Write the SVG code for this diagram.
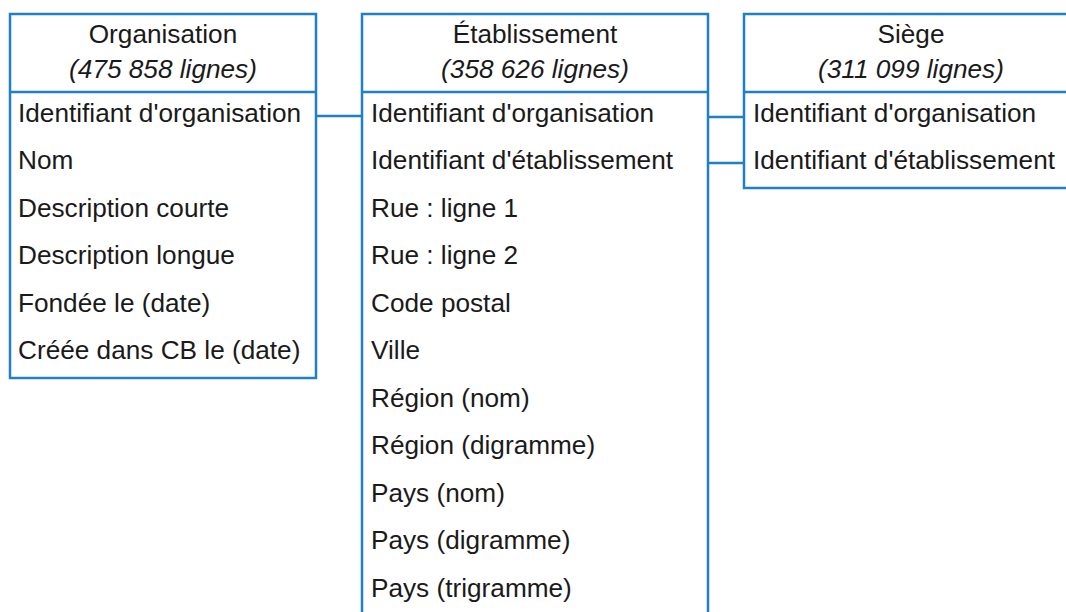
<svg xmlns="http://www.w3.org/2000/svg" width="1066" height="612" viewBox="0 0 1066 612">
<style>
.box{fill:#fff;stroke:#1f80c4;stroke-width:2.5}
.div{stroke:#1f80c4;stroke-width:2.5}
.conn{stroke:#1f80c4;stroke-width:2.5;fill:none}
text{font-family:"Liberation Sans",Arial,sans-serif;font-size:26.2px;fill:#1a1a1a}
.h{text-anchor:middle}
.i{font-style:italic}
</style>
<rect width="1066" height="612" fill="#fff"/>
<g id="connectors">
<line class="conn" x1="316" y1="116" x2="362" y2="116"/>
<line class="conn" x1="708" y1="117" x2="744" y2="117"/>
<line class="conn" x1="708" y1="163" x2="744" y2="163"/>
</g>
<g id="organisation">
<rect class="box" x="10" y="14" width="306" height="364"/>
<line class="div" x1="10" y1="92" x2="316" y2="92"/>
<text class="h" x="163" y="43">Organisation</text>
<text class="h i" x="163" y="78">(475 858 lignes)</text>
<text x="18" y="121.5">Identifiant d'organisation</text>
<text x="18" y="169">Nom</text>
<text x="18" y="216.5">Description courte</text>
<text x="18" y="264">Description longue</text>
<text x="18" y="311.5">Fondée le (date)</text>
<text x="18" y="359">Créée dans CB le (date)</text>
</g>
<g id="etablissement">
<rect class="box" x="362" y="14" width="346" height="620"/>
<line class="div" x1="362" y1="92" x2="708" y2="92"/>
<text class="h" x="535" y="43">Établissement</text>
<text class="h i" x="535" y="78">(358 626 lignes)</text>
<text x="371" y="121.5">Identifiant d'organisation</text>
<text x="371" y="169">Identifiant d'établissement</text>
<text x="371" y="216.5">Rue : ligne 1</text>
<text x="371" y="264">Rue : ligne 2</text>
<text x="371" y="311.5">Code postal</text>
<text x="371" y="359">Ville</text>
<text x="371" y="406.5">Région (nom)</text>
<text x="371" y="454">Région (digramme)</text>
<text x="371" y="501.5">Pays (nom)</text>
<text x="371" y="549">Pays (digramme)</text>
<text x="371" y="596.5">Pays (trigramme)</text>
</g>
<g id="siege">
<rect class="box" x="744" y="14" width="334" height="174"/>
<line class="div" x1="744" y1="92" x2="1078" y2="92"/>
<text class="h" x="911" y="43">Siège</text>
<text class="h i" x="911" y="78">(311 099 lignes)</text>
<text x="753" y="121.5">Identifiant d'organisation</text>
<text x="753" y="169">Identifiant d'établissement</text>
</g>
</svg>
